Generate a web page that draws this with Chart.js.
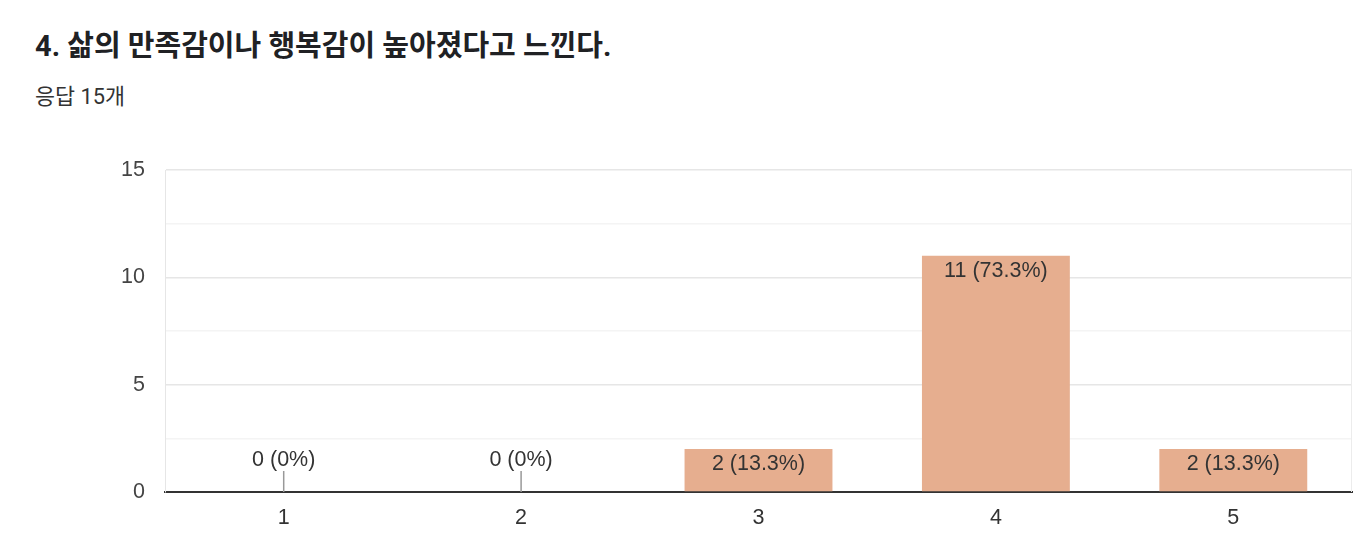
<!DOCTYPE html>
<html lang="ko">
<head>
<meta charset="utf-8">
<title>4. 삶의 만족감이나 행복감이 높아졌다고 느낀다.</title>
<script src="https://cdn.jsdelivr.net/npm/chart.js@4/dist/chart.umd.min.js"></script>
<style>
    html, body { margin: 0; padding: 0; background: #fff; }
    body { width: 1360px; height: 560px; position: relative; overflow: hidden; }
    #title {
        position: absolute; left: 35px; top: 22px; margin: 0; line-height: 1.2;
        font: bold 29px "Roboto", "Noto Sans CJK KR", sans-serif; color: #202124;
    }
    #sub {
        position: absolute; left: 35px; top: 79px; line-height: 1.2;
        font: 21.8px "Roboto", "Noto Sans CJK KR", sans-serif; color: #333;
    }
    #wrap { position: absolute; left: 0; top: 0; width: 1360px; height: 560px; }
</style>
</head>
<body>
<h1 id="title">4. 삶의 만족감이나 행복감이 높아졌다고 느낀다.</h1>
<div id="sub">응답 15개</div>
<div id="wrap"><canvas id="chart"></canvas></div>
<script>
// Chart data
const categories = ['1', '2', '3', '4', '5'];
const counts = [0, 0, 2, 11, 2];
const totalResponses = 15;
const yTicks = [0, 5, 10, 15];

const barColor = '#e6ae8f';
const labelFont = '21.5px "Liberation Sans", Arial, sans-serif';

// value labels and the little stub for zero bars
const barLabels = {
    id: 'barLabels',
    afterDatasetsDraw(chart) {
        const ctx = chart.ctx;
        const meta = chart.getDatasetMeta(0);
        const yScale = chart.scales.y;
        const base = yScale.getPixelForValue(0);
        ctx.save();
        ctx.font = labelFont;
        ctx.fillStyle = '#333';
        ctx.textAlign = 'center';
        ctx.textBaseline = 'middle';
        meta.data.forEach(function(bar, i) {
            const v = counts[i];
            const pct = Math.round(v / totalResponses * 1000) / 10;
            const text = v + ' (' + pct + '%)';
            if (v === 0) {
                ctx.strokeStyle = '#999';
                ctx.lineWidth = 1.5;
                ctx.beginPath();
                ctx.moveTo(bar.x, base - 21);
                ctx.lineTo(bar.x, base);
                ctx.stroke();
                ctx.fillText(text, bar.x, base - 32);
            } else {
                ctx.fillText(text, bar.x, bar.y + 15);
            }
        });
        ctx.restore();
    }
};

document.addEventListener('DOMContentLoaded', function() {
    const ctx = document.getElementById('chart').getContext('2d');
    new Chart(ctx, {
        type: 'bar',
        data: {
            labels: categories,
            datasets: [{
                data: counts,
                backgroundColor: barColor,
                borderWidth: 0,
                barPercentage: 0.623,
                categoryPercentage: 1.0
            }]
        },
        options: {
            responsive: true,
            maintainAspectRatio: false,
            animation: false,
            layout: { padding: { top: 170, right: 8, bottom: 0, left: 0 } },
            plugins: {
                legend: { display: false },
                tooltip: { enabled: false }
            },
            scales: {
                x: {
                    afterFit: function(scale) { scale.height = 68; },
                    grid: { display: false, drawTicks: false },
                    border: { color: '#333', width: 2 },
                    ticks: {
                        color: '#333',
                        padding: 13,
                        font: { family: '"Liberation Sans", Arial, sans-serif', size: 21.5 }
                    }
                },
                y: {
                    min: 0,
                    max: 15,
                    afterFit: function(scale) { scale.width = 165; },
                    afterBuildTicks: function(scale) {
                        scale.ticks = [0, 2.5, 5, 7.5, 10, 12.5, 15].map(v => ({ value: v }));
                    },
                    grid: {
                        drawTicks: false,
                        color: function(c) {
                            return yTicks.includes(c.tick.value) ? '#e6e6e6' : '#f4f4f4';
                        },
                        lineWidth: 1.5
                    },
                    border: { display: true, color: '#e6e6e6' },
                    ticks: {
                        color: '#444',
                        padding: 20,
                        font: { family: '"Liberation Sans", Arial, sans-serif', size: 21.5 },
                        callback: function(v) { return yTicks.includes(v) ? String(v) : ''; }
                    }
                }
            }
        },
        plugins: [barLabels, {
            id: 'rightEdge',
            beforeDatasetsDraw(chart) {
                const a = chart.chartArea;
                const c = chart.ctx;
                c.save();
                c.strokeStyle = '#ececec';
                c.lineWidth = 1;
                c.beginPath();
                c.moveTo(a.right - 0.5, a.top);
                c.lineTo(a.right - 0.5, a.bottom);
                c.stroke();
                c.restore();
            }
        }]
    });
});
</script>
</body>
</html>
